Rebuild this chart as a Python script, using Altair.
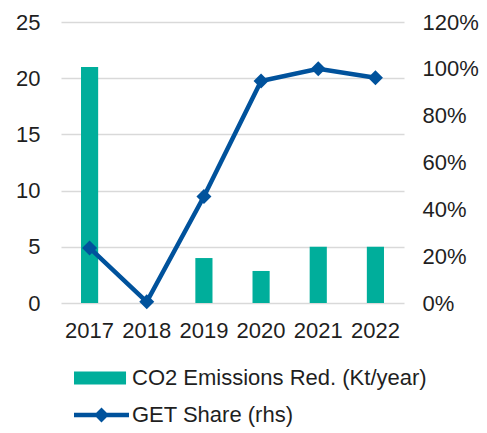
import altair as alt
import pandas as pd

years = ["2017", "2018", "2019", "2020", "2021", "2022"]
co2_reduction = [21, 0, 4, 2.85, 5, 5]
get_share = [0.235, 0.005, 0.455, 0.948, 1.0, 0.962]
bar_label = "CO2 Emissions Red. (Kt/year)"
line_label = "GET Share (rhs)"
left_ticks = [0, 5, 10, 15, 20, 25]
right_ticks = [0, 0.2, 0.4, 0.6, 0.8, 1.0, 1.2]

df = pd.DataFrame({
    "year": years,
    "co2": co2_reduction,
    "share": get_share,
    "bar_series": [bar_label] * len(years),
    "line_series": [line_label] * len(years),
})

FONT = "Liberation Sans"
TXT = "#1f1f1f"
TEAL = "#00AE9B"
BLUE = "#00529C"
GRID = "#d9d9d9"
FS = 22

BAR_PATH = "M-1,-0.59L3.73,-0.59L3.73,0.59L-1,0.59Z"
LINE_PATH = "M-1,-0.2L4,-0.2L4,0.2L-1,0.2Z M1.5,-0.68L2.18,0L1.5,0.68L0.82,0Z"

x_enc = alt.X(
    "year:N", sort=years,
    scale=alt.Scale(paddingInner=0.7, paddingOuter=0.35),
    axis=alt.Axis(title=None, labelAngle=0, domain=False, ticks=False, tickSize=0,
                  labelPadding=17, labelFontSize=FS, labelFont=FONT, labelColor=TXT,
                  grid=False),
)

right_axis = alt.Axis(orient="right", title=None, format=".0%", values=right_ticks,
                      grid=False, domain=False, ticks=False, tickSize=0,
                      labelPadding=18, labelFontSize=FS, labelFont=FONT,
                      labelColor=TXT)
y_right = alt.Y("share:Q", scale=alt.Scale(domain=[0, 1.2], nice=False), axis=right_axis)

bars = alt.Chart(df).mark_bar(color=TEAL).encode(
    x=x_enc,
    y=alt.Y("co2:Q", scale=alt.Scale(domain=[0, 25], nice=False),
            axis=alt.Axis(title=None, values=left_ticks, grid=True, gridColor=GRID,
                          gridWidth=1.5, domain=False, ticks=False, tickSize=0,
                          labelPadding=21, labelFontSize=FS, labelFont=FONT,
                          labelColor=TXT)),
    fill=alt.Fill("bar_series:N", scale=alt.Scale(domain=[bar_label], range=[TEAL]),
                  legend=alt.Legend(title=None, orient="none", legendX=13, legendY=345,
                                    symbolType=BAR_PATH, symbolSize=484,
                                    symbolStrokeWidth=0, labelFontSize=FS,
                                    labelFont=FONT, labelColor=TXT, labelOffset=36,
                                    padding=0, labelLimit=400)),
)

line = alt.Chart(df).mark_line(color=BLUE, strokeWidth=4.5).encode(
    x=x_enc, y=y_right,
)
points = alt.Chart(df).mark_point(shape="diamond", filled=True, size=225, opacity=1,
                                  color=BLUE).encode(
    x=x_enc, y=y_right,
    fill=alt.Fill("line_series:N", scale=alt.Scale(domain=[line_label], range=[BLUE]),
                  legend=alt.Legend(title=None, orient="none", legendX=13, legendY=382,
                                    symbolType=LINE_PATH, symbolSize=484,
                                    symbolStrokeWidth=0, labelFontSize=FS,
                                    labelFont=FONT, labelColor=TXT, labelOffset=36,
                                    padding=0, labelLimit=400)),
)

chart = alt.layer(bars, alt.layer(line, points)).resolve_scale(
    y="independent", fill="independent"
).properties(
    width=343, height=281,
    autosize=alt.AutoSizeParams(type="none"),
    padding={"left": 53, "top": 14, "right": 75, "bottom": 124},
).configure_view(stroke=None)

chart.save("out.html", embed_options={"renderer": "svg", "actions": False})
